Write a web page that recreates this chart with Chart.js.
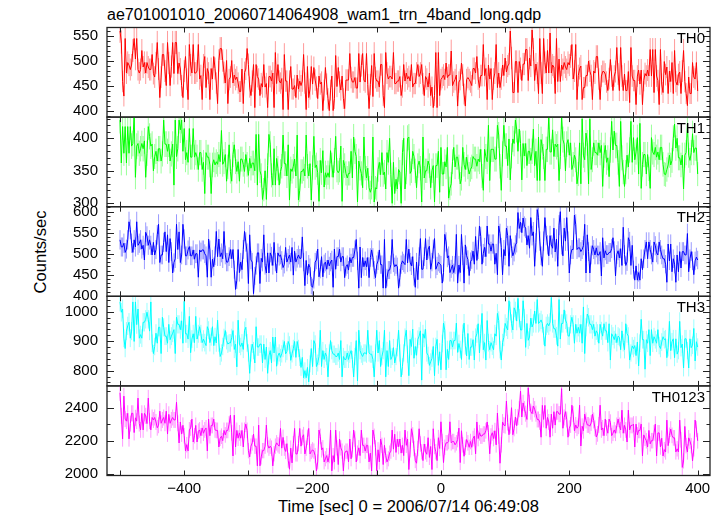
<!DOCTYPE html>
<html>
<head>
<meta charset="utf-8">
<script src="https://cdn.jsdelivr.net/npm/chart.js@4.4.0/dist/chart.umd.min.js"></script>
<style>
  body { margin: 0; background: #fff; }
  #fig { position: relative; width: 724px; height: 516px; overflow: hidden;
         font-family: "Liberation Sans", Arial, Helvetica, sans-serif; color: #000; }
  #fig canvas { position: absolute; left: 0; top: 0; }
  .lbl { position: absolute; line-height: 16px; white-space: nowrap; }
  #title { left: 107px; top: 7px; font-size: 16px; }
  #xlab  { left: 408.5px; top: 499px; font-size: 16.6px; transform: translateX(-50%); }
  #ylab  { left: 41px; top: 251.5px; font-size: 16.6px; transform: translate(-50%, -50%) rotate(-90deg); }
</style>
</head>
<body>
<div id="fig">
  <div class="lbl" id="title">ae701001010_20060714064908_wam1_trn_4band_long.qdp</div>
  <div class="lbl" id="ylab">Counts/sec</div>
  <div class="lbl" id="xlab">Time [sec] 0 = 2006/07/14 06:49:08</div>
</div>
<script>
// ── Données (estimées sur la figure, bins de 2 s, une ligne = 50 s) ───────────

const T0 = -500;   // temps du premier bin (s)
const DT = 2;      // pas des bins (s)

const TH0 = [
  560,538,459,430,545,476,497,492,483,492,521,545,504,545,483,476,483,521,488,497,476,497,488,483,483,
  513,475,468,496,537,484,427,468,513,513,480,451,537,496,451,489,537,475,537,537,475,496,484,451,427,
  480,509,464,423,533,492,476,533,476,476,480,533,464,471,423,492,509,447,485,476,423,485,464,509,485,
  456,415,501,525,525,501,477,456,501,415,463,468,501,456,472,463,468,456,439,439,484,415,477,484,525,
  493,448,431,460,493,407,493,469,464,431,455,448,493,448,455,407,469,469,460,476,407,517,455,493,460,
  456,465,403,513,460,460,403,460,489,444,444,451,427,472,444,460,451,460,513,456,403,489,427,444,489,
  454,487,462,448,425,470,454,458,401,442,487,454,425,401,442,470,401,425,511,449,487,458,442,470,425,
  405,462,462,462,515,467,458,458,467,446,446,515,458,491,515,462,458,515,453,405,453,491,429,515,467,
  460,460,448,493,493,431,407,517,476,464,469,469,464,517,455,455,460,460,469,431,448,493,460,476,464,
  469,460,493,448,455,455,476,493,469,476,493,455,431,469,464,448,476,431,448,407,431,517,407,517,431,
  463,467,472,463,496,467,472,472,520,451,458,463,472,410,458,463,496,472,434,410,463,467,463,458,451,
  485,485,476,509,464,447,471,471,533,471,485,423,492,464,485,423,464,476,533,447,476,447,464,492,471,
  506,478,490,494,560,506,437,437,499,499,437,499,485,461,494,494,523,523,461,506,490,562,523,461,494,
  476,435,545,476,435,545,497,476,521,476,556,476,492,488,435,545,459,504,459,492,483,497,488,483,497,
  492,509,533,464,480,533,423,471,485,490,423,447,447,471,471,500,480,471,423,480,476,509,509,464,423,
  470,479,479,474,458,441,465,503,470,441,470,479,527,474,441,527,470,441,474,441,441,479,417,527,470,
  461,461,413,470,482,454,482,413,461,475,470,482,470,523,470,523,437,523,470,461,413,523,454,437,499,
  473,488,435,480,459,497,435,521,459,452,473,478,435,480,521,459,435,411,468,435,435,497,468,464,497,
  440
];
const TH1 = [
  428,362,418,377,418,362,418,377,418,388,392,438,340,388,392,377,384,392,384,396,340,377,418,403,388,
  391,350,372,380,365,384,384,365,376,428,391,391,380,391,365,376,391,328,428,372,384,428,413,428,380,
  415,367,378,363,415,371,371,415,371,378,371,352,378,378,352,363,315,378,371,371,359,315,359,367,359,
  364,360,375,364,412,360,364,375,334,356,390,349,334,375,390,364,349,364,334,368,368,360,349,375,360,
  343,369,354,362,362,350,406,328,406,350,343,306,321,350,306,358,406,391,343,328,384,328,369,354,328,
  349,357,405,361,361,342,390,305,353,349,357,368,342,405,305,320,349,349,353,342,405,357,342,361,305,
  355,403,355,359,347,303,366,347,381,325,347,340,347,340,381,359,340,366,403,351,347,351,388,303,366,
  358,346,339,346,346,380,339,402,380,372,302,365,354,346,324,402,354,339,354,324,317,324,402,302,324,
  322,352,363,344,378,344,348,322,378,363,400,344,300,363,315,337,322,352,348,300,378,400,322,348,400,
  402,346,350,380,372,350,324,358,365,354,302,402,339,350,350,365,358,324,350,358,302,358,358,380,317,
  386,345,345,364,356,386,308,323,330,364,386,356,371,371,356,330,338,386,360,352,371,356,345,352,356,
  372,368,368,357,368,364,383,342,320,383,372,364,420,335,383,383,383,368,368,420,405,357,320,376,420,
  388,388,358,399,336,373,399,392,428,414,380,414,392,336,392,373,392,358,380,380,366,380,414,358,380,
  335,402,335,398,387,372,335,383,383,435,379,379,413,372,391,387,391,335,372,435,398,391,350,391,398,
  374,393,352,360,374,367,330,345,393,330,430,374,367,408,393,330,430,352,367,393,378,378,374,393,378,
  389,326,374,389,363,370,341,382,426,382,411,389,389,363,326,426,370,348,326,348,374,356,382,426,363,
  401,367,379,401,345,423,323,360,375,375,345,375,353,323,401,379,375,386,371,379,367,386,386,360,345,
  344,352,359,374,359,366,400,422,385,400,370,370,359,374,322,374,378,422,374,366,378,407,378,385,385,
  345
];
const TH2 = [
  533,516,516,525,503,511,533,576,558,525,503,533,516,576,520,525,533,511,520,485,551,542,520,533,520,
  497,527,497,510,545,570,479,497,497,527,552,505,545,479,536,505,454,479,488,570,510,552,479,497,570,
  535,495,495,509,517,495,495,509,487,500,500,444,509,504,509,509,500,495,444,535,509,444,487,469,495,
  553,493,535,493,502,488,553,497,480,480,493,510,488,510,462,415,437,510,455,480,462,510,553,528,502,
  429,545,485,480,405,447,472,502,502,429,489,480,545,472,454,502,454,502,494,472,527,480,454,502,494,
  497,484,467,475,515,480,489,497,480,515,449,506,480,489,497,489,489,540,480,424,484,449,475,467,424,
  420,438,480,485,511,445,463,493,445,476,480,463,485,471,480,485,420,511,463,493,493,511,480,493,493,
  443,469,474,461,491,478,491,491,509,534,483,418,516,443,491,469,483,469,491,443,491,509,491,461,443,
  474,483,509,474,474,418,534,418,443,461,461,474,534,478,469,474,469,418,443,474,483,478,474,534,478,
  511,480,471,493,445,420,480,438,493,536,463,463,493,536,485,511,518,463,480,511,536,463,471,480,476,
  473,430,455,546,528,490,495,455,464,473,455,473,546,430,473,455,546,495,430,521,495,486,448,481,486,
  506,475,541,484,510,566,541,475,501,515,493,566,523,523,506,523,523,475,501,450,566,548,515,450,510,
  495,561,543,470,543,513,495,504,521,526,598,560,575,550,585,565,561,521,543,513,586,543,552,470,526,
  605,586,530,495,470,530,586,543,521,495,543,521,513,561,504,535,470,568,600,521,495,561,530,586,530,
  454,497,510,510,592,570,510,514,514,505,510,519,570,454,545,505,454,497,519,510,497,514,497,497,505,
  447,538,490,507,498,498,503,503,512,538,507,447,498,507,490,512,472,563,498,472,481,538,529,472,520,
  462,437,471,437,455,437,488,462,488,510,528,488,528,510,497,480,528,519,502,497,528,510,497,488,488,
  475,432,523,483,523,457,488,475,432,497,457,505,466,505,505,497,497,548,457,488,505,483,450,483,492,
  485
];
const TH3 = [
  1033,998,1009,910,875,934,952,964,910,934,1033,899,1033,956,1009,910,922,910,964,964,974,998,974,934,1033,
  893,858,882,927,893,947,947,858,981,947,917,917,893,957,905,917,927,939,858,981,957,957,939,969,893,
  1035,925,925,907,984,861,907,925,895,984,907,925,949,925,895,907,895,885,949,937,895,915,949,885,915,
  894,971,894,848,860,882,912,936,902,890,894,894,912,936,872,890,813,971,890,882,894,872,936,947,894,
  860,791,860,890,868,826,949,880,880,890,890,826,890,838,880,791,850,868,826,914,860,914,815,850,860,
  845,857,875,899,857,865,899,887,835,857,875,899,845,899,875,845,811,845,776,800,776,811,762,823,875,
  814,902,890,814,826,848,937,814,868,838,860,848,779,860,902,868,856,856,848,848,860,838,902,779,848,
  838,838,860,838,856,868,838,779,848,902,765,937,868,856,848,860,860,856,937,860,856,856,838,779,860,
  937,860,902,814,848,868,937,779,868,814,902,838,848,878,826,848,878,937,860,779,814,860,913,937,856,
  783,906,882,941,842,882,852,906,917,935,768,925,910,940,860,852,818,830,842,882,783,882,906,818,864,
  803,892,961,937,803,872,838,902,902,880,902,902,961,862,892,872,838,926,961,884,850,926,838,880,880,
  905,836,913,925,959,860,925,994,871,895,836,970,895,871,895,883,871,925,917,994,970,871,836,895,913,
  960,948,938,1037,1002,960,938,1013,1002,968,1045,978,938,938,1037,978,879,960,903,914,978,948,960,1002,960,
  1041,960,964,972,960,918,883,952,960,952,964,1048,960,942,942,918,883,1041,907,960,960,1006,972,960,918,
  917,957,981,957,893,957,927,947,927,957,893,1016,858,947,992,981,957,957,939,957,917,935,927,893,957,
  935,917,959,935,935,895,959,836,925,917,905,925,895,917,913,871,935,895,871,959,925,917,836,860,884,
  875,885,851,897,816,893,974,905,905,805,905,893,939,851,939,893,915,905,893,939,885,875,897,915,905,
  908,844,878,967,868,898,908,844,908,856,868,967,878,890,809,908,908,868,809,908,878,886,943,833,898,
  880
];
const TH0123 = [
  2490,2351,2212,2470,2331,2319,2366,2212,2304,2366,2366,2250,2339,2319,2458,2304,2266,2366,2266,2366,2351,2304,2458,2319,2266,
  2341,2326,2341,2314,2279,2294,2379,2306,2326,2341,2306,2379,2241,2360,2306,2326,2341,2326,2326,2433,2306,2187,2314,2241,2294,
  2231,2139,2177,2139,2266,2278,2331,2193,2231,2293,2193,2258,2266,2231,2278,2246,2266,2278,2139,2331,2231,2293,2293,2331,2266,
  2263,2263,2163,2216,2228,2201,2263,2236,2263,2263,2301,2355,2248,2109,2355,2163,2263,2216,2248,2216,2263,2163,2263,2301,2263,
  2141,2103,2168,2188,2241,2168,2168,2049,2295,2049,2103,2141,2141,2168,2295,2176,2156,2168,2156,2049,2122,2168,2188,2176,2168,
  2275,2156,2221,2156,2136,2183,2083,2029,2156,2067,2183,2275,2121,2121,2183,2275,2168,2221,2237,2121,2156,2221,2275,2121,2136,
  2146,2138,2111,2019,2073,2265,2227,2146,2158,2073,2092,2111,2073,2111,2265,2019,2111,2073,2265,2158,2057,2211,2158,2138,2019,
  2126,2138,2138,2073,2211,2092,2146,2265,2211,2073,2126,2158,2111,2265,2173,2173,2138,2173,2173,2073,2126,2019,2265,2227,2158,
  2019,2146,2073,2211,2173,2057,2173,2111,2073,2092,2126,2138,2265,2150,2240,2130,2210,2165,2211,2126,2173,2111,2265,2173,2211,
  2027,2146,2273,2235,2154,2081,2065,2154,2273,2181,2134,2081,2181,2134,2119,2219,2100,2166,2027,2273,2166,2134,2081,2219,2154,
  2315,2196,2069,2161,2188,2188,2196,2315,2188,2196,2196,2176,2188,2208,2277,2069,2261,2176,2107,2161,2208,2188,2161,2196,2161,
  2214,2229,2122,2314,2214,2249,2229,2229,2241,2241,2261,2314,2249,2122,2229,2249,2214,2261,2176,2368,2229,2065,2176,2314,2295,
  2291,2440,2310,2237,2291,2400,2237,2275,2344,2291,2344,2391,2500,2344,2429,2391,2364,2329,2520,2429,2376,2364,2410,2391,2364,
  2329,2329,2314,2222,2414,2329,2414,2276,2341,2314,2222,2361,2276,2376,2295,2376,2376,2361,2361,2515,2276,2341,2376,2329,2222,
  2276,2296,2415,2361,2261,2296,2276,2288,2415,2169,2288,2261,2361,2323,2296,2296,2288,2308,2361,2323,2276,2223,2242,2296,2415,
  2266,2278,2231,2331,2278,2246,2331,2312,2231,2246,2266,2246,2293,2331,2293,2266,2385,2246,2293,2266,2193,2385,2266,2293,2293,
  2301,2163,2301,2236,2263,2263,2301,2109,2236,2216,2201,2163,2263,2182,2201,2201,2248,2301,2109,2248,2248,2163,2216,2109,2147,
  2133,2325,2171,2233,2271,2233,2218,2218,2133,2152,2133,2325,2206,2040,2079,2287,2171,2133,2218,2198,2171,2079,2152,2325,2271,
  2200
];

const SERIES      = [TH0, TH1, TH2, TH3, TH0123];
const PANEL_NAMES = ["TH0", "TH1", "TH2", "TH3", "TH0123"];

const X_MIN     = -520.3;
const X_MAX     = 419.2;
const X_TICKS   = [-500, -400, -300, -200, -100, 0, 100, 200, 300, 400];
const X_LABELED = [-400, -200, 0, 200, 400];

const Y_MIN   = [388, 294.8, 398.6, 748.4, 1991];
const Y_MAX   = [567, 432.6, 611.9, 1052, 2531.5];
const Y_TICKS = [
  [400, 450, 500, 550],
  [300, 350, 400],
  [400, 450, 500, 550, 600],
  [800, 900, 1000],
  [2000, 2200, 2400],
];
const Y_MINOR = [10, 10, 10, 20, 100];

// ── Mise en page ──────────────────────────────────────────────────────────────

const W = 724, H = 516;
const PLOT_LEFT = 107, PLOT_RIGHT = 710;
const PANEL_TOP = 27.5, PANEL_H = 89.6;
const LINE_COLORS = ["#ff0000", "#00ff00", "#0000ff", "#00ffff", "#ff00ff"];
const ERR_COLORS  = ["rgba(255,0,0,.4)", "rgba(0,255,0,.4)", "rgba(0,0,255,.4)",
                     "rgba(0,255,255,.4)", "rgba(255,0,255,.4)"];
const FONT = { family: '"Liberation Sans", Arial, Helvetica, sans-serif', size: 15 };

const qdpPlugin = {
  id: "qdp",
  beforeDatasetsDraw(chart, args, opts) {
    // barres d'erreur sqrt(N) (bins de 1 s)
    const { ctx, chartArea: a, scales: { x, y } } = chart;
    const k = opts.panel;
    ctx.save();
    ctx.beginPath();
    ctx.rect(a.left, a.top, a.right - a.left, a.bottom - a.top);
    ctx.clip();
    ctx.strokeStyle = ERR_COLORS[k];
    ctx.lineWidth = 1;
    ctx.beginPath();
    SERIES[k].forEach((v, i) => {
      const px = x.getPixelForValue(T0 + i * DT);
      const e = Math.sqrt(v);
      ctx.moveTo(px, y.getPixelForValue(v - e));
      ctx.lineTo(px, y.getPixelForValue(v + e));
    });
    ctx.stroke();
    ctx.restore();
  },
  afterDraw(chart, args, opts) {
    const { ctx, chartArea: a, scales: { x, y } } = chart;
    const k = opts.panel;
    ctx.save();
    ctx.strokeStyle = "#222";
    ctx.lineWidth = 1.3;
    ctx.strokeRect(a.left, a.top, a.right - a.left, a.bottom - a.top);

    ctx.lineWidth = 1;
    ctx.beginPath();
    // ticks x en haut et en bas, vers l'intérieur
    X_TICKS.forEach(t => {
      const px = Math.round(x.getPixelForValue(t)) + 0.5;
      ctx.moveTo(px, a.top);    ctx.lineTo(px, a.top + 5);
      ctx.moveTo(px, a.bottom); ctx.lineTo(px, a.bottom - 5);
    });
    // ticks y (majeurs + mineurs) des deux côtés
    const step = Y_MINOR[k];
    for (let v = Math.ceil(Y_MIN[k] / step) * step; v <= Y_MAX[k]; v += step) {
      const py = Math.round(y.getPixelForValue(v)) + 0.5;
      const len = Y_TICKS[k].includes(v) ? 7 : 3.5;
      ctx.moveTo(a.left, py);  ctx.lineTo(a.left + len, py);
      ctx.moveTo(a.right, py); ctx.lineTo(a.right - len, py);
    }
    ctx.stroke();

    ctx.fillStyle = "#000";
    ctx.font = `${FONT.size}px ${FONT.family}`;
    ctx.textAlign = "right";
    ctx.textBaseline = "alphabetic";
    ctx.fillText(PANEL_NAMES[k], 705, a.top + 15.7);
    ctx.restore();
  },
};

function makePanel(k) {
  const canvas = document.createElement("canvas");
  canvas.width = W;
  canvas.height = H;
  document.getElementById("fig").appendChild(canvas);

  const top = PANEL_TOP + k * PANEL_H;
  const bottom = top + PANEL_H;
  const last = k === SERIES.length - 1;

  new Chart(canvas, {
    type: "line",
    data: {
      datasets: [{
        data: SERIES[k].map((v, i) => ({ x: T0 + i * DT, y: v })),
        borderColor: LINE_COLORS[k],
        borderWidth: 1,
        pointRadius: 0,
        tension: 0,
      }],
    },
    options: {
      responsive: false,
      animation: false,
      devicePixelRatio: 1,
      events: [],
      layout: { padding: { top: top, bottom: last ? 0 : H - bottom, left: 0, right: W - PLOT_RIGHT } },
      plugins: { legend: { display: false }, tooltip: { enabled: false }, qdp: { panel: k } },
      scales: {
        x: {
          type: "linear",
          min: X_MIN,
          max: X_MAX,
          display: last,
          grid: { display: false, drawTicks: false },
          border: { display: false },
          afterBuildTicks: s => { s.ticks = X_TICKS.map(v => ({ value: v })); },
          afterFit: s => { if (last) s.height = H - bottom; },
          ticks: {
            autoSkip: false,
            maxRotation: 0,
            padding: 4,
            color: "#000",
            font: FONT,
            callback: v => X_LABELED.includes(v) ? String(v).replace("-", "\u2212") : "",
          },
        },
        y: {
          type: "linear",
          min: Y_MIN[k],
          max: Y_MAX[k],
          grid: { display: false, drawTicks: false },
          border: { display: false },
          afterBuildTicks: s => { s.ticks = Y_TICKS[k].map(v => ({ value: v })); },
          afterFit: s => { s.width = PLOT_LEFT; },
          ticks: { autoSkip: false, padding: 9, color: "#000", font: FONT, callback: v => String(v) },
        },
      },
    },
    plugins: [qdpPlugin],
  });
}

SERIES.forEach((_, k) => makePanel(k));
</script>
</body>
</html>
